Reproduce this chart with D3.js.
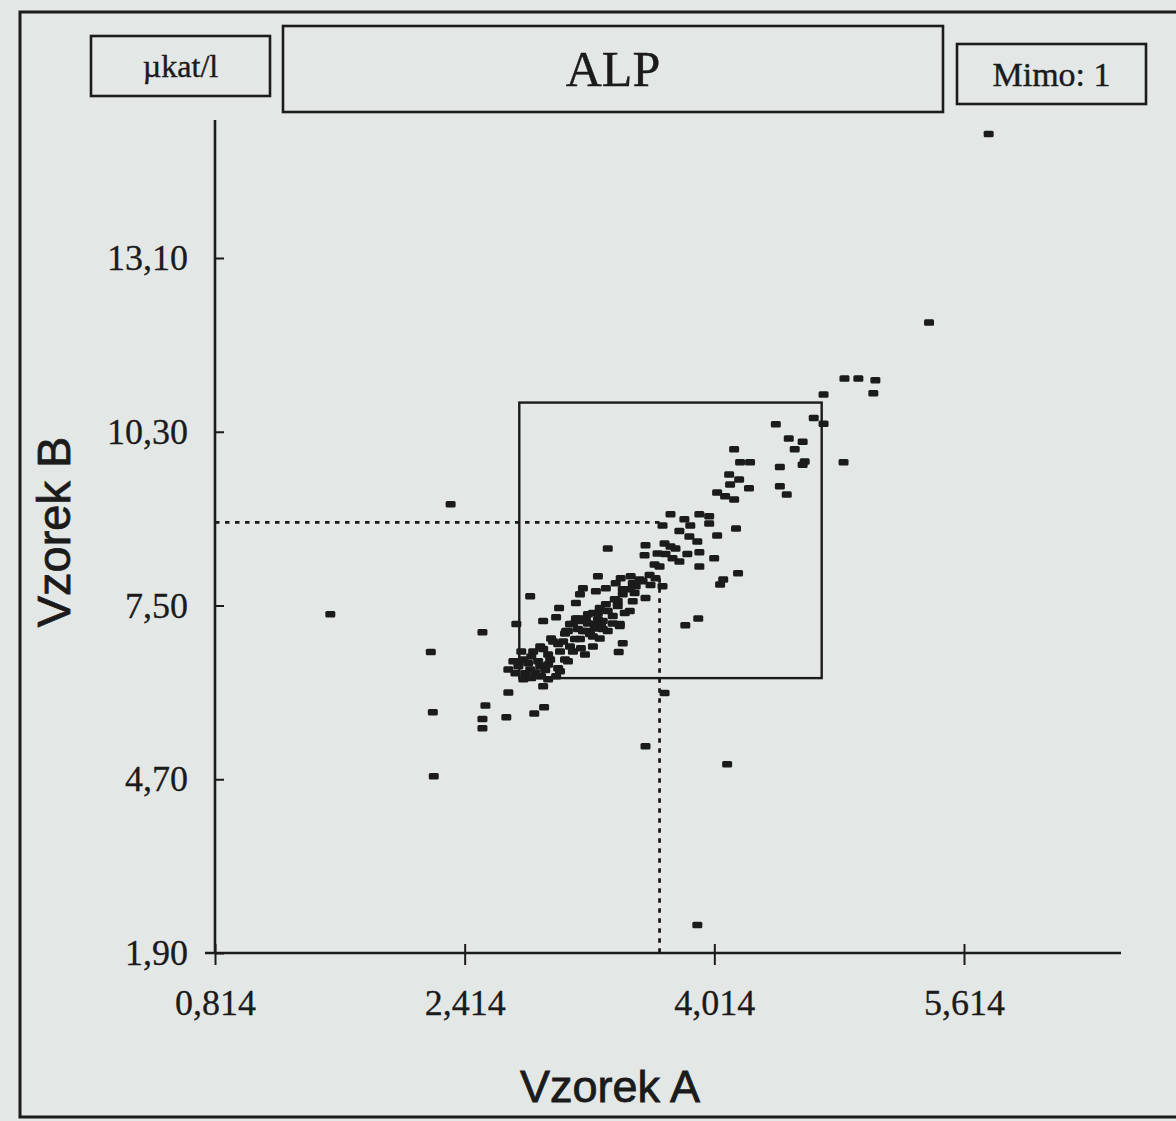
<!DOCTYPE html>
<html>
<head>
<meta charset="utf-8">
<script src="https://cdn.jsdelivr.net/npm/d3@7"></script>
<style>
  html, body { margin: 0; padding: 0; background: #e3e8e6; }
  svg { display: block; }
</style>
</head>
<body>
<script>
// ---- data ----
const unitLabel = "µkat/l";
const titleLabel = "ALP";
const outsideLabel = "Mimo: 1";
const xTitle = "Vzorek A";
const yTitle = "Vzorek B";

const xTicks = [0.814, 2.414, 4.014, 5.614];
const yTicks = [1.90, 4.70, 7.50, 10.30, 13.10];

// target box [min, max]
const boxX = [2.764, 4.702];
const boxY = [6.33, 10.77];

// dotted median lines
const medianX = 3.663;
const medianY = 8.84;
const medianHEnd = 3.68;
const medianVStart = 7.94;

// measured pairs [Vzorek A, Vzorek B]
const pointsOuter = [
  [5.772,15.10],[5.390,12.06],[4.848,11.16],[4.937,11.16],[5.046,11.13],[5.033,10.92],[4.714,10.90],[4.842,9.81],
  [4.651,10.52],[4.714,10.43],[4.408,10.42],[4.491,10.19],[4.580,10.14],[4.529,10.02],[4.593,9.82],[4.580,9.77],
  [4.434,9.73],[4.434,9.42],[4.478,9.29]
];
const pointsUpper = [
  [4.141,10.02],[4.179,9.81],[4.243,9.81],[4.109,9.61],[4.173,9.53],[4.115,9.45],[4.236,9.39],[4.032,9.32],
  [4.083,9.26],[4.141,9.21],[4.153,8.74],[4.032,8.63],[4.013,8.26],[4.166,8.02],[4.071,7.92],[4.051,7.84],
  [3.911,7.29],[3.828,7.18],[3.733,8.97],[3.822,8.89],[3.860,8.79],[3.918,8.97],[3.981,8.94],[3.981,8.82],
  [3.790,8.70],[3.854,8.61],[3.905,8.53],[3.682,8.79],[3.573,8.47],[3.567,8.31],[3.650,8.34],[3.695,8.50],
  [3.733,8.45],[3.765,8.42],[3.701,8.33],[3.746,8.26],[3.790,8.21],[3.841,8.33],[3.918,8.36],[3.918,8.13],
  [3.631,8.16],[3.663,8.13],[3.599,7.99],[3.637,7.94],[3.605,7.83],[3.682,7.81],[3.573,7.62],
  [3.331,8.42],[3.268,7.97],[2.834,7.65],[2.745,7.20],[3.408,7.17],[3.427,6.89],[3.401,6.75],[3.695,6.09],
  [2.694,6.10],[2.917,6.20]
];
const pointsLow = [
  [2.324,9.13],[1.553,7.36],[2.197,6.75],[2.210,5.78],[2.216,4.75],[2.528,7.07],[2.547,5.89],[2.528,5.67],
  [2.528,5.52],[2.681,5.70],[2.860,5.76],[2.923,5.86],[3.573,5.23],[4.096,4.94],[3.905,2.35]
];
const pointsCluster = [
  [3.019,7.46],[2.917,7.25],[3.000,7.31],[3.089,7.20],[3.140,7.29],[3.204,7.36],[3.268,7.38],[3.248,7.20],
  [3.057,7.05],[2.968,6.97],[2.898,6.84],[3.013,6.88],[3.121,6.96],[3.236,6.84],[3.185,6.71],[3.108,6.76],
  [3.057,6.63],[2.949,6.71],[2.841,6.68],[2.777,6.76],[2.821,6.57],[2.885,6.60],[2.949,6.55],[3.013,6.49],
  [2.758,6.52],[2.739,6.41],[2.802,6.41],[2.866,6.42],[2.930,6.46],[2.790,6.31],[2.841,6.33],[2.904,6.36],
  [3.025,6.44],[3.076,6.60],[3.191,7.09],[3.287,7.17],[3.280,6.97],[3.159,6.81],
  [3.172,7.78],[3.153,7.68],[3.127,7.54],[3.255,7.73],[3.319,7.78],[3.382,7.86],[3.414,7.94],[3.478,7.97],
  [3.535,7.92],[3.510,7.81],[3.472,7.76],[3.427,7.68],[3.376,7.60],[3.319,7.52],[3.280,7.46],[3.236,7.38],
  [3.191,7.29],[3.153,7.25],[3.108,7.20],[3.064,7.09],[3.395,7.49],[3.491,7.57],[3.472,7.41],[3.363,7.33],
  [3.299,7.25],[3.248,7.13],[3.408,7.20],[3.331,7.09],[3.236,7.00],[3.172,7.09],[3.127,7.29]
];
const pointsCore = [
  [2.726,6.60],[2.790,6.63],[2.853,6.76],[2.917,6.80],[2.981,6.92],[3.045,6.92],[3.076,7.09],[3.140,7.12],
  [3.204,7.21],[3.268,7.28],[3.331,7.41],[3.395,7.57],[3.427,7.76],[3.491,7.86],[3.554,7.89],[2.834,6.47],
  [2.898,6.52],[2.962,6.63],[3.025,6.76],[3.089,6.84],[3.153,6.96],[3.217,7.04],[3.299,7.12],[3.363,7.21],
  [3.440,7.38],[3.503,7.70],[2.694,6.47],[2.758,6.60],[2.949,6.31],[3.000,6.36]
];
const points = [...pointsOuter, ...pointsUpper, ...pointsLow, ...pointsCluster, ...pointsCore];

// ---- drawing ----
const W = 1176, H = 1121;
const ink = "#1b1b1b";

const svg = d3.select("body").append("svg").attr("width", W).attr("height", H);

svg.append("rect").attr("width", W).attr("height", H).attr("fill", "#e3e8e6");

// outer frame (left, top, bottom visible)
svg.append("path")
  .attr("d", "M1180,12 L20,12 L20,1117 L1180,1117")
  .attr("fill", "none").attr("stroke", ink).attr("stroke-width", 3);

const x = d3.scaleLinear().domain([xTicks[0], xTicks[xTicks.length - 1]]).range([215, 964]);
const y = d3.scaleLinear().domain([yTicks[0], yTicks[yTicks.length - 1]]).range([953, 258]);

// header boxes
const header = svg.append("g");
function labelBox(x0, y0, w, h, text, size) {
  header.append("rect").attr("x", x0).attr("y", y0).attr("width", w).attr("height", h)
    .attr("fill", "none").attr("stroke", ink).attr("stroke-width", 2.6);
  header.append("text").attr("x", x0 + w / 2).attr("y", y0 + h / 2)
    .attr("text-anchor", "middle").attr("dominant-baseline", "central")
    .attr("font-family", "'Liberation Serif', 'DejaVu Serif', serif")
    .attr("font-size", size).attr("fill", ink)
    .attr("stroke", ink).attr("stroke-width", 0.4).text(text);
}
labelBox(91, 36, 179, 60, unitLabel, 32);
labelBox(283, 26, 660, 86, titleLabel, 50);
labelBox(957, 44, 189, 60, outsideLabel, 34);

// axes
const gx = svg.append("g").attr("transform", `translate(0,${y(yTicks[0])})`)
  .call(d3.axisBottom(x).tickValues(xTicks).tickSize(12).tickPadding(24)
    .tickFormat(d => d.toFixed(3).replace(".", ",")));
gx.select(".domain").remove();
gx.append("line").attr("x1", 205).attr("x2", 1121).attr("y1", 0).attr("y2", 0)
  .attr("stroke", ink).attr("stroke-width", 2.6);
gx.selectAll(".tick line").attr("y1", -9).attr("stroke", ink).attr("stroke-width", 2);
gx.selectAll(".tick text").attr("font-family", "'Liberation Serif', serif")
  .attr("font-size", 36).attr("fill", ink).attr("stroke", ink).attr("stroke-width", 0.3);

const gy = svg.append("g").attr("transform", `translate(${x(xTicks[0])},0)`)
  .call(d3.axisLeft(y).tickValues(yTicks).tickSize(11).tickPadding(16)
    .tickFormat(d => d.toFixed(2).replace(".", ",")));
gy.select(".domain").remove();
gy.append("line").attr("x1", 0).attr("x2", 0).attr("y1", 120).attr("y2", y(yTicks[0]))
  .attr("stroke", ink).attr("stroke-width", 2.6);
gy.selectAll(".tick line").attr("x2", 9).attr("stroke", ink).attr("stroke-width", 2);
gy.selectAll(".tick text").attr("font-family", "'Liberation Serif', serif")
  .attr("font-size", 36).attr("fill", ink).attr("stroke", ink).attr("stroke-width", 0.3);

// axis titles
svg.append("text").attr("x", 610).attr("y", 1102).attr("text-anchor", "middle")
  .attr("font-family", "'Liberation Sans', Arial, sans-serif").attr("font-size", 45)
  .attr("fill", ink).attr("stroke", ink).attr("stroke-width", 0.8).text(xTitle);
svg.append("text").attr("transform", `translate(70,532) rotate(-90)`).attr("text-anchor", "middle")
  .attr("font-family", "'Liberation Sans', Arial, sans-serif").attr("font-size", 47)
  .attr("fill", ink).attr("stroke", ink).attr("stroke-width", 0.8).text(yTitle);

// target box
svg.append("rect")
  .attr("x", x(boxX[0])).attr("y", y(boxY[1]))
  .attr("width", x(boxX[1]) - x(boxX[0])).attr("height", y(boxY[0]) - y(boxY[1]))
  .attr("fill", "none").attr("stroke", ink).attr("stroke-width", 2.4);

// dotted median lines
svg.append("line").attr("x1", x(xTicks[0])).attr("x2", x(medianHEnd))
  .attr("y1", y(medianY)).attr("y2", y(medianY))
  .attr("stroke", ink).attr("stroke-width", 2.8).attr("stroke-dasharray", "4.5,5.5");
svg.append("line").attr("x1", x(medianX)).attr("x2", x(medianX))
  .attr("y1", y(medianVStart)).attr("y2", y(yTicks[0]))
  .attr("stroke", ink).attr("stroke-width", 2.8).attr("stroke-dasharray", "4.5,5.5");

// points
svg.append("g").selectAll("rect").data(points).join("rect")
  .attr("x", d => x(d[0]) - 5).attr("y", d => y(d[1]) - 3.25)
  .attr("width", 10).attr("height", 6.5).attr("rx", 1.5)
  .attr("fill", ink);
</script>
</body>
</html>
